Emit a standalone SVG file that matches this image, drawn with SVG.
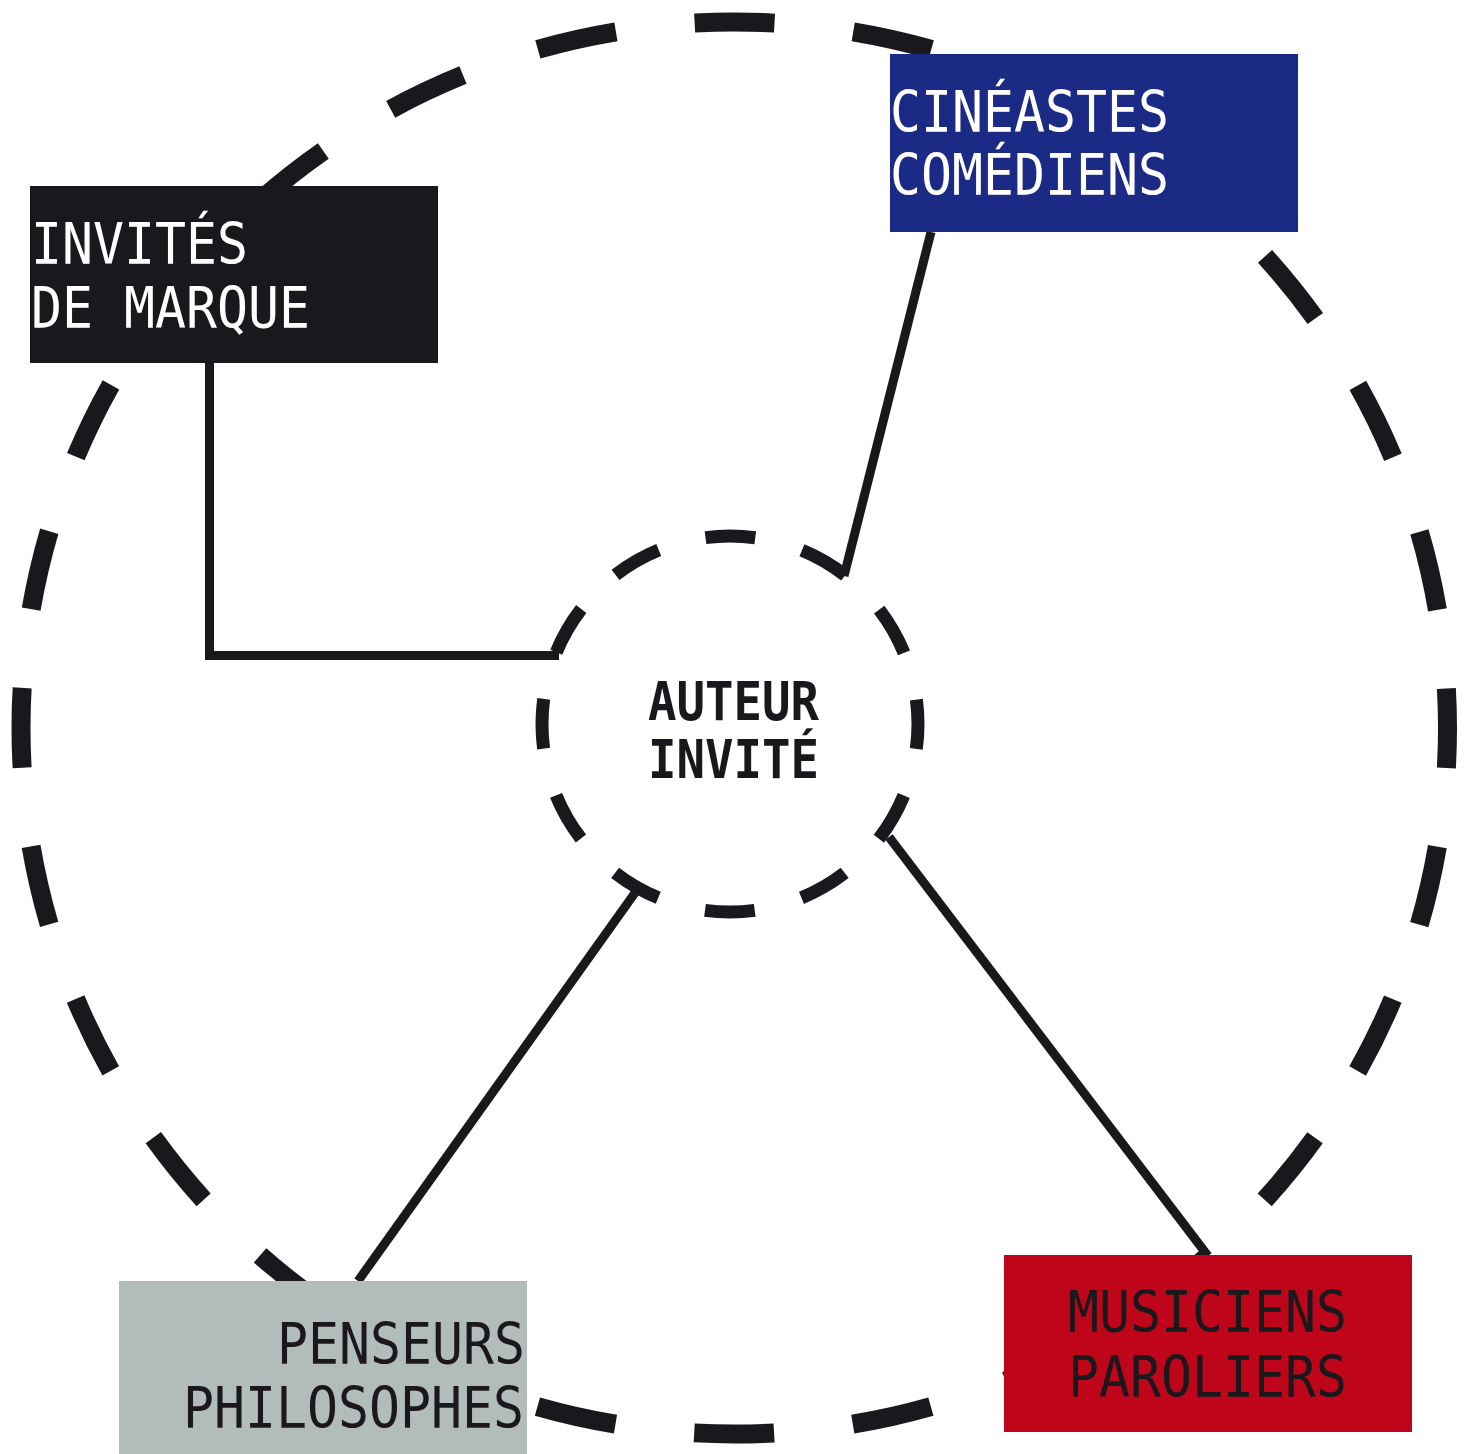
<svg xmlns="http://www.w3.org/2000/svg" width="1470" height="1454" viewBox="0 0 1470 1454">
  <style>
    .ring { fill: none; stroke: #1a181c; stroke-linecap: butt; }
    .big { stroke-width: 19; stroke-dasharray: 80 79.24; stroke-dashoffset: 40; }
    .small { stroke-width: 13; stroke-dasharray: 50 48.44; stroke-dashoffset: 25; }
    .conn { fill: none; stroke: #1a181c; stroke-width: 9; stroke-linecap: butt; stroke-linejoin: miter; }
    .lbl { font-family: "DejaVu Sans Mono", "Liberation Mono", monospace; font-size: 57px; }
    .center { font-family: "DejaVu Sans Mono", "Liberation Mono", monospace; font-size: 53px; font-weight: bold; fill: #1a181c; }
    .light { fill: #ffffff; }
    .dark { fill: #1a181c; }
  </style>
  <rect width="1470" height="1454" fill="#ffffff"/>
  <g id="rings">
    <ellipse class="ring big" cx="734.25" cy="728" rx="713.25" ry="706"/>
    <circle class="ring small" cx="730" cy="724" r="188"/>
  </g>
  <g id="connectors">
    <polyline class="conn" points="209.5,363 209.5,655.5 559,655.5"/>
    <line class="conn" x1="931" y1="232" x2="844" y2="576"/>
    <line class="conn" x1="358" y1="1281" x2="637" y2="890"/>
    <line class="conn" x1="889" y1="837" x2="1208" y2="1256"/>
  </g>
  <g id="node-auteur">
    <text class="center" x="733.5" y="720" text-anchor="middle" textLength="171" lengthAdjust="spacingAndGlyphs">AUTEUR</text>
    <text class="center" x="733.5" y="778" text-anchor="middle" textLength="171" lengthAdjust="spacingAndGlyphs">INVITÉ</text>
  </g>
  <g id="node-invites">
    <rect x="30" y="186" width="408" height="177" fill="#1a181c"/>
    <text class="lbl light" x="31" y="264" textLength="217" lengthAdjust="spacingAndGlyphs">INVITÉS</text>
    <text class="lbl light" x="31" y="328" textLength="279" lengthAdjust="spacingAndGlyphs">DE MARQUE</text>
  </g>
  <g id="node-cineastes">
    <rect x="890" y="54" width="408" height="178" fill="#1b2a84"/>
    <text class="lbl light" x="890" y="132" textLength="279" lengthAdjust="spacingAndGlyphs">CINÉASTES</text>
    <text class="lbl light" x="890" y="195" textLength="279" lengthAdjust="spacingAndGlyphs">COMÉDIENS</text>
  </g>
  <g id="node-penseurs">
    <rect x="119" y="1281" width="408" height="173" fill="#b2bcba"/>
    <text class="lbl dark" x="277" y="1364" textLength="248" lengthAdjust="spacingAndGlyphs">PENSEURS</text>
    <text class="lbl dark" x="183" y="1428" textLength="341" lengthAdjust="spacingAndGlyphs">PHILOSOPHES</text>
  </g>
  <g id="node-musiciens">
    <rect x="1004" y="1255" width="408" height="177" fill="#be0519"/>
    <text class="lbl dark" x="1068" y="1332" textLength="279" lengthAdjust="spacingAndGlyphs">MUSICIENS</text>
    <text class="lbl dark" x="1068" y="1397" textLength="279" lengthAdjust="spacingAndGlyphs">PAROLIERS</text>
  </g>
</svg>
